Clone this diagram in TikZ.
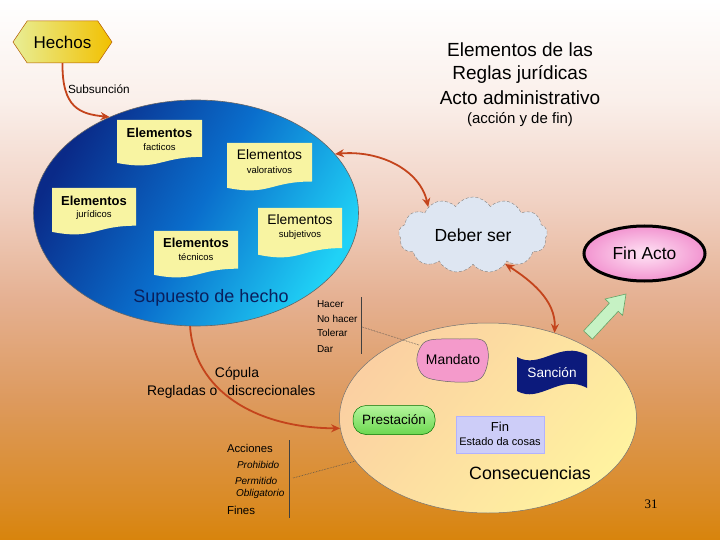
\documentclass[tikz,border=0pt]{standalone}
\usepackage{fontspec}
\setmainfont{Liberation Sans}
\newfontfamily\numfont{Liberation Serif}
\usetikzlibrary{shapes.geometric,shapes.symbols,arrows.meta}
\definecolor{bg0}{HTML}{D8840C}
\definecolor{bg1}{HTML}{DA8B26}
\definecolor{bg2}{HTML}{DD9A5E}
\definecolor{bg3}{HTML}{E5B091}
\definecolor{bg4}{HTML}{F1D2C4}
\definecolor{bg5}{HTML}{FAEFEA}
\definecolor{bg6}{HTML}{FFFFFF}
\definecolor{arrowc}{HTML}{C4441C}
\definecolor{docc}{HTML}{F8F4A2}
\definecolor{navytext}{HTML}{0A1F5C}
\definecolor{cloudc}{HTML}{DEE6F2}
\definecolor{pinkin}{HTML}{FFE4F5}
\definecolor{pinkout}{HTML}{F294D0}
\definecolor{bluedark}{HTML}{0A2A88}
\definecolor{bluemid}{HTML}{0A6ECC}
\definecolor{bluecyan}{HTML}{20D2F6}
\definecolor{hexL}{HTML}{E8EE96}
\definecolor{hexR}{HTML}{F2C000}
\definecolor{consT}{HTML}{FBD0A2}
\definecolor{consB}{HTML}{FFF2A0}
\definecolor{mandc}{HTML}{F49ACB}
\definecolor{sancc}{HTML}{0C1A7C}
\definecolor{prestT}{HTML}{B4F49C}
\definecolor{prestB}{HTML}{6CD850}
\definecolor{finc}{HTML}{CDCDF8}
\definecolor{greenarr}{HTML}{C6F2C4}
\pgfdeclareverticalshading{bgshade}{100bp}{color(0bp)=(bg0); color(25bp)=(bg0); color(28.7bp)=(bg1); color(38bp)=(bg2); color(47.2bp)=(bg3); color(56.5bp)=(bg4); color(65.7bp)=(bg5); color(75bp)=(bg6); color(100bp)=(bg6)}
\newcommand\docshape[4]{\fill[docc] (#1,#2) -- ({#1+#3},#2) -- ({#1+#3},{#2+0.802*#4}) .. controls ({#1+0.5*#3},{#2+0.802*#4}) and ({#1+0.5*#3},{#2+1.1075*#4}) .. (#1,{#2+0.934*#4}) -- cycle;}
\tikzset{
  fsz/.style={font=\fontsize{#1}{#1}\selectfont},
  fszb/.style={font=\fontsize{#1}{#1}\selectfont\bfseries},
  fszi/.style={font=\fontsize{#1}{#1}\selectfont\itshape},
  txt/.style={inner sep=0pt, outer sep=0pt},
  conn/.style={draw=arrowc, line width=1.8pt, -{Stealth[length=9pt,width=8pt]}},
  dconn/.style={draw=arrowc, line width=1.8pt, {Stealth[length=9pt,width=8pt]}-{Stealth[length=9pt,width=8pt]}},
  dotline/.style={draw=black!70, densely dotted, line width=0.6pt},
  brack/.style={draw=black!75, line width=0.7pt},
}
\begin{document}
\begin{tikzpicture}[x=1pt,y=-1pt]
\useasboundingbox (0,0) rectangle (720,540);
\shade[shading=bgshade] (0,0) rectangle (720,540);

% title
\node[txt,fsz=19] (t1) at (520,50) {Elementos de las};
\node[txt,fsz=19] (t2) at (520,74) {Reglas jurídicas};
\node[txt,fsz=19] (t3) at (520,98) {Acto administrativo};
\node[txt,fsz=15] (t4) at (520,120) {(acción y de fin)};

% Hechos
\node[signal, signal to=west and east, signal pointer angle=112, minimum width=99, minimum height=42, inner sep=0pt,
  left color=hexL, right color=hexR, draw=orange!70!black, line width=0.5pt, fsz=17] (hechos) at (62.5,42) {Hechos};

% blue ellipse
\node[ellipse, minimum width=325, minimum height=226, draw=black!60, line width=0.6pt,
  top color=bluedark, bottom color=bluecyan, middle color=bluemid, shading angle=60] (sup) at (196,213) {};

% documents
\docshape{117}{120}{85}{46}
\docshape{227}{143}{85}{48}
\docshape{52}{188}{84}{47}
\docshape{258}{208}{84}{50}
\docshape{154}{231}{84}{47}
\node[txt,fszb=13] (f1) at (159.5,133) {Elementos};
\node[txt,fsz=9.5] (f2) at (159.5,147) {facticos};
\node[txt,fsz=13.8] (v1) at (269.5,155) {Elementos};
\node[txt,fsz=9.5] (v2) at (269.5,170) {valorativos};
\node[txt,fszb=13] (j1) at (94,201) {Elementos};
\node[txt,fsz=9.5] (j2) at (94,215) {jurídicos};
\node[txt,fsz=13.8] (s1) at (300,220) {Elementos};
\node[txt,fsz=9.5] (s2) at (300,235) {subjetivos};
\node[txt,fszb=13] (te1) at (196,243) {Elementos};
\node[txt,fsz=9.5] (te2) at (196,257) {técnicos};
\node[txt,fsz=18,text=navytext] (suptext) at (211,298) {Supuesto de hecho};

% Deber ser cloud
\node[cloud, cloud puffs=13, cloud puff arc=115, aspect=2, minimum width=149, minimum height=76, inner sep=0pt,
  fill=cloudc, draw=black!50, densely dashed, line width=0.4pt, fsz=17.5] (deber) at (473,235) {Deber ser};

% Fin Acto
\node[ellipse, minimum width=121, minimum height=55, draw=black, line width=3pt, inner color=pinkin, outer color=pinkout, fsz=17.4] (finacto) at (644.5,253.5) {Fin Acto};

% Consecuencias ellipse
\node[ellipse, minimum width=297, minimum height=190, draw=black!55, line width=0.5pt,
  top color=consT, bottom color=consB, shading angle=50] (cons) at (488,418) {};
\node[txt,fsz=17.8] (constext) at (530,473) {Consecuencias};

% Mandato
\draw[fill=mandc, draw=black!60, line width=0.5pt] plot[smooth cycle, tension=0.6] coordinates {(430,340) (460,339) (482,340) (488,351) (487,366) (481,378) (468,382) (443,381) (424,376) (417,362) (420,348)};
\node[txt,fsz=13.9] (mandato) at (453,360) {Mandato};

% Sanción
\fill[sancc] (517,357) .. controls (540,370) and (560,340) .. (587,355) -- (587,388) .. controls (560,373) and (540,404) .. (517,391) -- cycle;
\node[txt,fsz=13.6,text=white] (sancion) at (552,373) {Sanción};

% Prestación
\node[rounded corners=13, minimum width=82, minimum height=29, draw=green!45!black, line width=0.5pt,
  top color=prestT, bottom color=prestB, fsz=13.5] (prest) at (394,420) {Prestación};

% Fin box
\node[rectangle, minimum width=88, minimum height=37, fill=finc, draw=blue!30!white, line width=0.5pt] (finbox) at (500,434.5) {};
\node[txt,fsz=13] (fin1) at (500,427) {Fin};
\node[txt,fsz=11] (fin2) at (500,442) {Estado da cosas};

% green arrow
\draw[fill=greenarr, draw=green!40!black!60, line width=0.6pt] (583.6,330.9) -- (609.4,303.1) -- (605,299) -- (626,294) -- (622.6,315.4) -- (618.2,311.3) -- (592.4,339.1) -- cycle;

% connectors
\draw[conn] (hechos.south) .. controls (62,108) and (80,114) .. (sup.132);
\node[txt,fsz=11.8,anchor=west] (subs) at (68,89) {Subsunción};
\draw[dconn] (sup.23) .. controls (380,150) and (420,170) .. (deber.148);
\draw[dconn] (deber.-42) .. controls (530,280) and (556,300) .. (cons.52);
\draw[conn] (sup.267) .. controls (194,390) and (255,428) .. (cons.184);
\node[txt,fsz=13.9] (copula) at (237,374) {Cópula};
\node[txt,fsz=13.9,anchor=west] (regladas) at (147,392) {Regladas o\hspace{10pt}discrecionales};

% Hacer list
\node[txt,fsz=10,anchor=west] (h1) at (317,304) {Hacer};
\node[txt,fsz=10,anchor=west] (h2) at (317,319) {No hacer};
\node[txt,fsz=10,anchor=west] (h3) at (317,333) {Tolerar};
\node[txt,fsz=10,anchor=west] (h4) at (317,349) {Dar};
\draw[brack] (361,297) -- (361,354);
\coordinate (hb) at (362,327);
\coordinate (mandL) at (419,345);
\draw[dotline] (hb) -- (mandL);

% Acciones list
\node[txt,fsz=11.3,anchor=west] (a1) at (227,448) {Acciones};
\node[txt,fszi=10,anchor=west] (a2) at (237,465) {Prohibido};
\node[txt,fszi=10,anchor=west] (a3) at (235,481) {Permitido};
\node[txt,fszi=10,anchor=west] (a4) at (236,494) {Obligatorio};
\node[txt,fsz=11.5,anchor=west] (a5) at (227,510) {Fines};
\draw[brack] (289,440) -- (289,518);
\coordinate (ab) at (293,478);
\draw[dotline] (ab) -- (cons.198);

\node[txt,font=\fontsize{13}{13}\numfont] (num) at (651,504) {31};
\end{tikzpicture}
\end{document}
